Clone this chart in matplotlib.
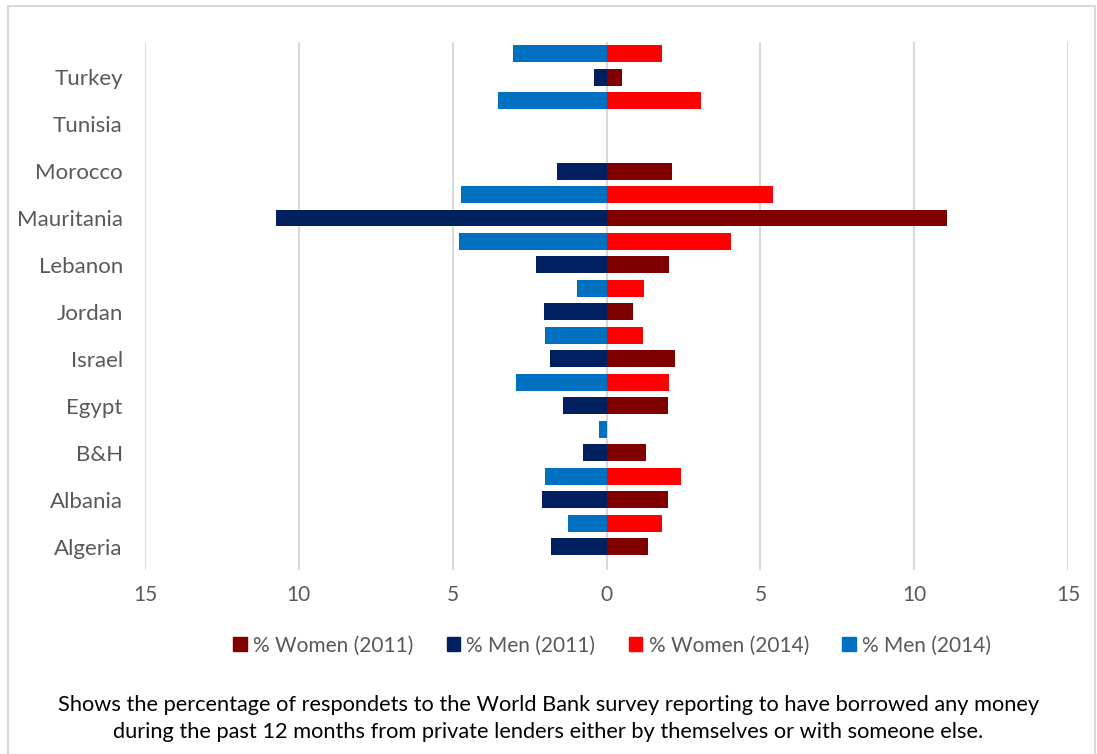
import numpy as np
import matplotlib.pyplot as plt
from matplotlib.patches import Patch, Rectangle

# Borrowing from private lenders, % of respondents
countries = ['Algeria', 'Albania', 'B&H', 'Egypt', 'Israel', 'Jordan',
             'Lebanon', 'Mauritania', 'Morocco', 'Tunisia', 'Turkey']
women_2011 = [1.36, 2.01, 1.29, 2.00, 2.21, 0.85, 2.04, 11.05, 2.13, np.nan, 0.49]
men_2011 = [1.79, 2.10, 0.78, 1.40, 1.83, 2.04, 2.30, 10.74, 1.60, np.nan, 0.40]
women_2014 = [1.80, 2.41, np.nan, 2.03, 1.20, 1.22, 4.06, 5.42, np.nan, 3.06, 1.79]
men_2014 = [1.25, 1.99, 0.24, 2.94, 2.01, 0.95, 4.80, 4.73, np.nan, 3.53, 3.03]
x_ticks = [-15, -10, -5, 0, 5, 10, 15]

c_w11 = '#800000'
c_m11 = '#002060'
c_w14 = '#FF0000'
c_m14 = '#0070C0'
grey = '#595959'

plt.rcParams['font.family'] = ['Lato', 'DejaVu Sans']

fig = plt.figure(figsize=(10.97, 7.54), dpi=100)
ax = fig.add_axes([0.1322, 0.244, 0.8414, 0.7003])

y = np.arange(len(countries))
h = 0.36
kw = dict(height=h, linewidth=0, zorder=3)

# 2011 bars on the category, 2014 bars half a step above
ax.barh(y, women_2011, color=c_w11, **kw)
ax.barh(y, -np.array(men_2011), color=c_m11, **kw)
ax.barh(y + 0.5, women_2014, color=c_w14, **kw)
ax.barh(y + 0.5, -np.array(men_2014), color=c_m14, **kw)

ax.set_xlim(-15, 15)
ax.set_ylim(-0.5, 10.75)
ax.set_xticks(x_ticks)
ax.set_xticklabels([str(abs(v)) for v in x_ticks], fontsize=15, color=grey)
ax.set_yticks(y)
ax.set_yticklabels(countries, fontsize=16, color=grey)
ax.tick_params(length=0)
ax.tick_params(axis='y', pad=16)
ax.tick_params(axis='x', pad=11)
ax.grid(axis='x', color='#D9D9D9', linewidth=1.5, zorder=0)
ax.set_axisbelow(True)
for s in ax.spines.values():
    s.set_visible(False)

handles = [Patch(color=c_w11), Patch(color=c_m11),
           Patch(color=c_w14), Patch(color=c_m14)]
labels = ['% Women (2011)', '% Men (2011)', '% Women (2014)', '% Men (2014)']
fig.legend(handles, labels, loc='center', bbox_to_anchor=(0.558, 0.144),
           ncol=4, frameon=False, fontsize=15, labelcolor=grey,
           handlelength=0.65, handleheight=0.65, handletextpad=0.3,
           columnspacing=1.6)

fig.text(0.5, 0.047,
         'Shows the percentage of respondets to the World Bank survey '
         'reporting to have borrowed any money\nduring the past 12 months '
         'from private lenders either by themselves or with someone else.',
         ha='center', va='center', fontsize=15.7, color='black',
         linespacing=1.42)

# light frame around the chart area
fig.patches.append(Rectangle((0.0075, -0.05), 0.991, 1.042,
                             transform=fig.transFigure, fill=False,
                             edgecolor='#D9D9D9', linewidth=1.5))

fig.savefig('out.png', dpi=100)
